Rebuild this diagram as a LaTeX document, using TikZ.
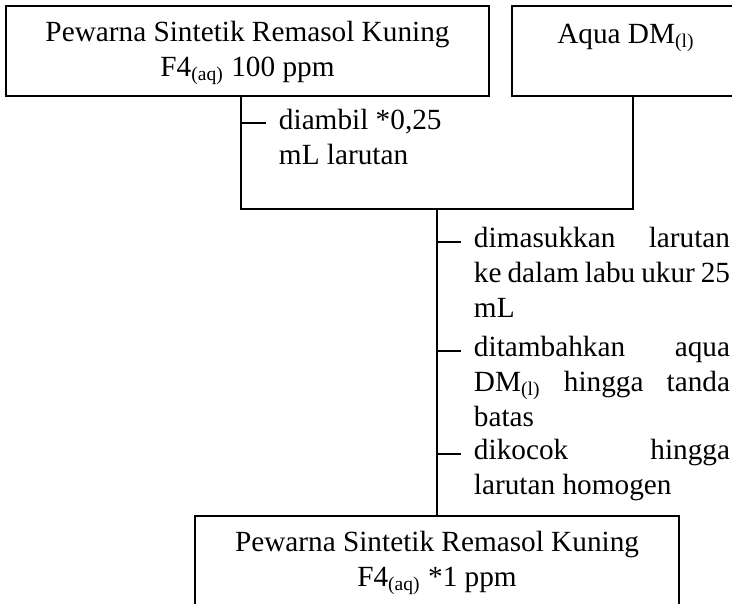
\documentclass[tikz,border=0pt]{standalone}
\usepackage{fontspec}
\setmainfont{Liberation Serif}
\newcommand{\jl}[1]{\makebox[105pt][s]{#1}}
\usetikzlibrary{calc}

\begin{document}
\begin{tikzpicture}[x=0.41pt, y=-0.41pt, line width=0.8pt,
  every node/.style={font=\fontsize{12}{14.2}\selectfont, inner sep=0pt},
  box/.style={draw, align=center, minimum width=198.4pt, minimum height=36.9pt},
  item/.style={anchor=base west, align=left}]
\useasboundingbox (0,0) rectangle (732,603);
\clip (0,0) rectangle (732,603);
\node[box] (dye) at (247.5,51) {\strut Pewarna Sintetik Remasol Kuning\\ F4\textsubscript{(aq)} 100 ppm};
\node[box, minimum width=93.5pt] (aqua) at (626,51) {Aqua DM\textsubscript{(l)}\\ ~};
\node[box] (result) at (437,561) {\strut Pewarna Sintetik Remasol Kuning\\ F4\textsubscript{(aq)} *1 ppm};
\coordinate (merge) at (437,209);
\draw ([xshift=-2.7pt]dye.south) |- (merge) -| ([xshift=2.9pt]aqua.south);
\draw (merge) -- (result.north);
% steps, placed at the baseline of their last line
\node[item] (take) at (278,164.6) {diambil *0,25\\ mL larutan};
\draw (241,123) -- (266,123);
\node[item] (pour) at (473,317.2) {\jl{dimasukkan larutan}\\ \jl{ke dalam labu ukur 25}\\ mL};
\node[item] (fill) at (473,426.2) {\jl{ditambahkan aqua}\\ \jl{DM\textsubscript{(l)} hingga tanda}\\ batas};
\node[item] (shake) at (473,494.6) {\jl{dikocok hingga}\\ larutan homogen};
\foreach \y in {242,351,454}
  \draw (437,\y) -- (461,\y);
\end{tikzpicture}
\end{document}
